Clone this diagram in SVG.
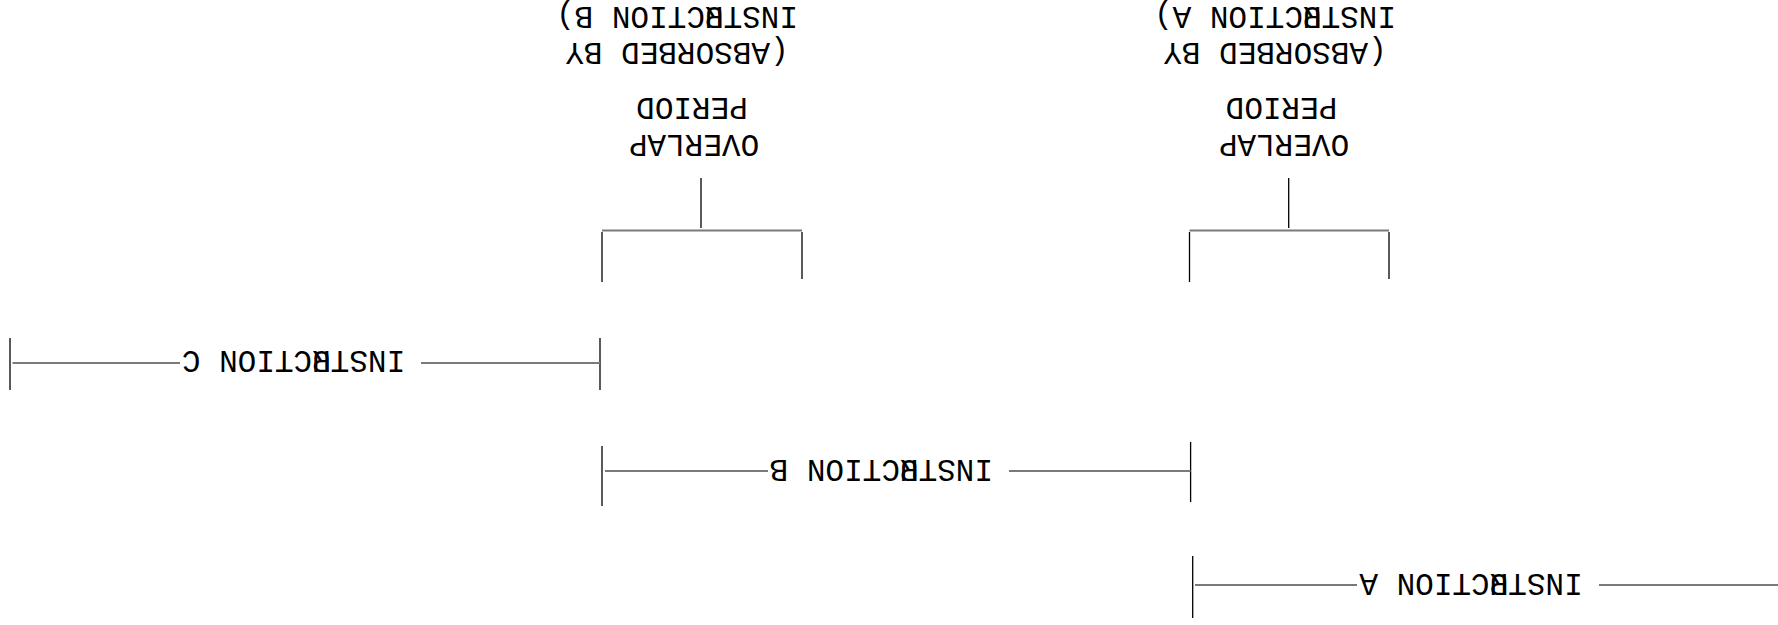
<svg xmlns="http://www.w3.org/2000/svg" width="1778" height="625" viewBox="0 0 1778 625">
<style>
.t{font-family:"Liberation Mono","Courier New",monospace;font-size:31px;fill:#000;}
.m{text-anchor:middle;}
.h{stroke:#7a7a7a;stroke-width:2;fill:none;}
.v{stroke:#000;stroke-width:1.3;fill:none;}
</style>
<rect width="1778" height="625" fill="#fff"/>
<g transform="rotate(180 889 312.5)">
<g id="instruction-c">
<line class="v" x1="1178" y1="235" x2="1178" y2="287"/>
<line class="v" x1="1768" y1="235" x2="1768" y2="287"/>
<line class="h" x1="1178" y1="262" x2="1357" y2="262"/>
<line class="h" x1="1598" y1="262" x2="1765.5" y2="262"/>
<text class="t m" x="1484.5" y="274">INSTR<tspan dx="-18.6">U</tspan>CTION C</text>
</g>
<g id="instruction-b">
<line class="v" x1="587.4" y1="123" x2="587.4" y2="183"/>
<line class="v" x1="1176" y1="119" x2="1176" y2="179"/>
<line class="h" x1="587.4" y1="154" x2="769" y2="154"/>
<line class="h" x1="1010" y1="154" x2="1173" y2="154"/>
<text class="t m" x="896.7" y="165">INSTR<tspan dx="-18.6">U</tspan>CTION B</text>
</g>
<g id="instruction-a">
<line class="v" x1="585.3" y1="7" x2="585.3" y2="69"/>
<line class="h" x1="0" y1="40" x2="179" y2="40"/>
<line class="h" x1="421" y1="40" x2="583" y2="40"/>
<text class="t m" x="307" y="51">INSTR<tspan dx="-18.6">U</tspan>CTION A</text>
</g>
<g id="overlap-b">
<line class="h" x1="976" y1="394.5" x2="1176" y2="394.5"/>
<line class="v" x1="1176" y1="343" x2="1176" y2="393"/>
<line class="v" x1="976" y1="346" x2="976" y2="393"/>
<text class="t m" x="1084" y="490">OVERLAP</text>
<text class="t m" x="1086" y="527">PERIOD</text>
<text class="t m" x="1101" y="582">(ABSORBED BY</text>
<text class="t m" x="1101" y="618">INSTR<tspan dx="-18.6">U</tspan>CTION B)</text>
</g>
<g id="overlap-a">
<line class="h" x1="389" y1="394.5" x2="588.5" y2="394.5"/>
<line class="v" x1="588.5" y1="343" x2="588.5" y2="393"/>
<line class="v" x1="389" y1="346" x2="389" y2="393"/>
<text class="t m" x="494" y="490">OVERLAP</text>
<text class="t m" x="496.5" y="527">PERIOD</text>
<text class="t m" x="503" y="582">(ABSORBED BY</text>
<text class="t m" x="503" y="618">INSTR<tspan dx="-18.6">U</tspan>CTION A)</text>
</g>
<g id="connectors">
<line class="v" x1="1077" y1="397" x2="1077" y2="447"/>
<line class="v" x1="489.3" y1="397" x2="489.3" y2="447"/>
</g>
</g>
</svg>
